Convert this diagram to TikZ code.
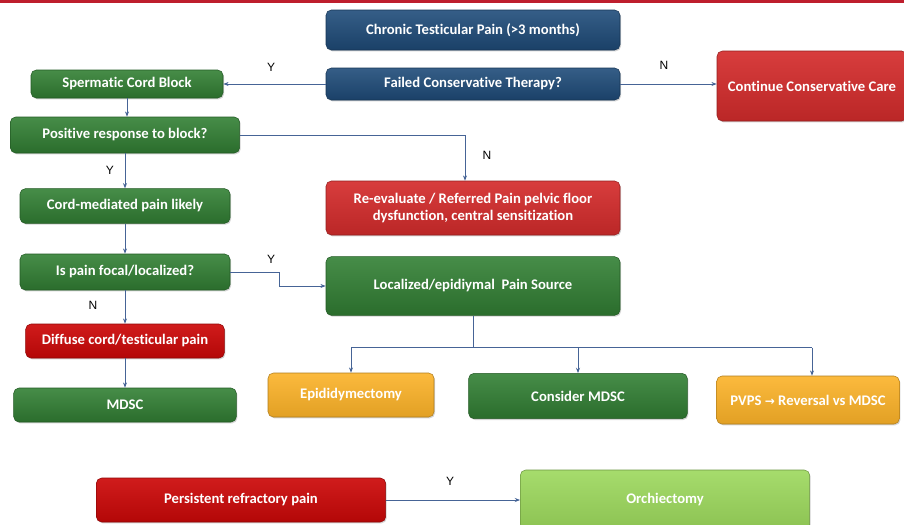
\documentclass[tikz,border=0pt]{standalone}
\usepackage{fontspec}
\setmainfont{Carlito}[Ligatures=NoCommon]
\newfontfamily\labelfont{Liberation Sans}
\usetikzlibrary{positioning, arrows.meta, calc, shadows}

\definecolor{topred}{RGB}{190,30,45}
\definecolor{navy}{RGB}{31,76,122}
\definecolor{leafgreen}{RGB}{50,128,52}
\definecolor{alertred}{RGB}{212,44,44}
\definecolor{deepred}{RGB}{204,8,8}
\definecolor{amber}{RGB}{251,178,40}
\definecolor{limegreen}{RGB}{156,216,92}
\definecolor{linkblue}{RGB}{70,100,150}

\tikzset{
    box/.style={rounded corners=4pt, align=center, text=white, inner sep=2pt,
        font=\bfseries\fontsize{11}{13}\selectfont,
        drop shadow={opacity=0.35, shadow xshift=0.8pt, shadow yshift=-1pt}},
    bluebox/.style={box, draw=navy!70!black, top color=navy!90!white, middle color=navy, bottom color=navy!85!black},
    greenbox/.style={box, draw=leafgreen!70!black, top color=leafgreen!90!white, middle color=leafgreen, bottom color=leafgreen!85!black},
    redbox/.style={box, draw=alertred!70!black, top color=alertred!92!white, middle color=alertred, bottom color=alertred!88!black},
    deepbox/.style={box, draw=deepred!70!black, top color=deepred!92!white, middle color=deepred, bottom color=deepred!88!black},
    amberbox/.style={box, draw=amber!70!black, top color=amber!90!white, middle color=amber, bottom color=amber!90!black},
    limebox/.style={box, draw=limegreen!70!black, top color=limegreen!90!white, middle color=limegreen, bottom color=limegreen!90!black},
    link/.style={draw=linkblue, line width=0.6pt},
    arrow/.style={link, -{Stealth[length=4pt,width=3pt]}},
    yn/.style={font=\labelfont\fontsize{9}{10}\selectfont, text=black}
}

\begin{document}
\begin{tikzpicture}[x=0.75pt,y=-0.75pt]
    \useasboundingbox (0,0) rectangle (904,525);
    % top band
    \fill[topred] (0,0) rectangle (904,3);

    % Main column
    \node[bluebox, minimum width=220.5pt, minimum height=30pt] (chronic) at (473,30) {Chronic Testicular Pain (>3 months)};
    \node[bluebox, minimum width=220.5pt, minimum height=24pt] (failed) at (473,84) {Failed Conservative Therapy?};
    \node[redbox, minimum width=142.5pt, minimum height=52.5pt] (contcare) at (812,86) {Continue Conservative Care};

    % Left column
    \node[greenbox, minimum width=144pt, minimum height=21pt] (cordblock) at (127,84) {Spermatic Cord Block};
    \node[greenbox, minimum width=172pt, minimum height=27pt] (posresp) at (125,135) {Positive response to block?};
    \node[greenbox, minimum width=157.5pt, minimum height=26pt] (cordpain) at (125,206) {Cord-mediated pain likely};
    \node[greenbox, minimum width=157.5pt, minimum height=27pt] (focal) at (125,272) {Is pain focal/localized?};
    \node[deepbox, minimum width=149pt, minimum height=25.5pt] (diffuse) at (125,341) {Diffuse cord/testicular pain};
    \node[greenbox, minimum width=167pt, minimum height=25.5pt] (mdsc) at (125,405) {MDSC};

    % Middle column
    \node[redbox, minimum width=220.5pt, minimum height=40.5pt] (reeval) at (473,208) {Re-evaluate / Referred Pain pelvic floor\\dysfunction, central sensitization};
    \node[greenbox, minimum width=220.5pt, minimum height=44pt] (localized) at (473,286) {Localized/epidiymal\ \ Pain Source};

    % Options
    \node[amberbox, minimum width=124.5pt, minimum height=33pt] (epid) at (351,395) {Epididymectomy};
    \node[greenbox, minimum width=164pt, minimum height=34pt] (considermdsc) at (578,396) {Consider MDSC};
    \node[amberbox, minimum width=137pt, minimum height=36pt] (pvps) at (808,400) {PVPS {\fontspec{DejaVu Sans}\fontsize{9}{10}\selectfont\bfseries →} Reversal vs MDSC};

    % Bottom row
    \node[deepbox, minimum width=217pt, minimum height=33pt] (persist) at (241,500) {Persistent refractory pain};
    \node[limebox, minimum width=217pt, minimum height=45pt] (orchi) at (665,500) {Orchiectomy};

    % Connectors
    \draw[arrow] (failed.west) -- (cordblock.east);
    \draw[arrow] (failed.east) -- (failed.east -| contcare.west);
    \draw[arrow] (cordblock.south) -- (cordblock.south |- posresp.north);
    \draw[arrow] (posresp.east) -| ([xshift=-6pt]reeval.north);
    \draw[arrow] (posresp.south) -- (cordpain.north);
    \draw[arrow] (cordpain.south) -- (focal.north);
    \draw[arrow] (focal.east) -- ++(49,0) |- (localized.west);
    \draw[arrow] (focal.south) -- (diffuse.north);
    \draw[arrow] (diffuse.south) -- (mdsc.north);
    \coordinate (split) at ($(localized.south)+(0,32)$);
    \draw[link] (localized.south) -- (split);
    \draw[link] (epid.north |- split) -- ([xshift=3pt]pvps.north |- split);
    \draw[arrow] (epid.north |- split) -- (epid.north);
    \draw[arrow] (considermdsc.north |- split) -- (considermdsc.north);
    \draw[arrow] ([xshift=3pt]pvps.north |- split) -- ([xshift=3pt]pvps.north);
    \draw[arrow] (persist.east) -- (orchi.west);

    % Y/N labels
    \node[yn] (lblcord) at (271,67) {Y};
    \node[yn] (lblcare) at (664,65) {N};
    \node[yn] (lblreeval) at (487,155) {N};
    \node[yn] (lblcordpain) at (110,170) {Y};
    \node[yn] (lbllocal) at (271,259) {Y};
    \node[yn] (lbldiffuse) at (93,305) {N};
    \node[yn] (lblorchi) at (450,481) {Y};
\end{tikzpicture}
\end{document}
